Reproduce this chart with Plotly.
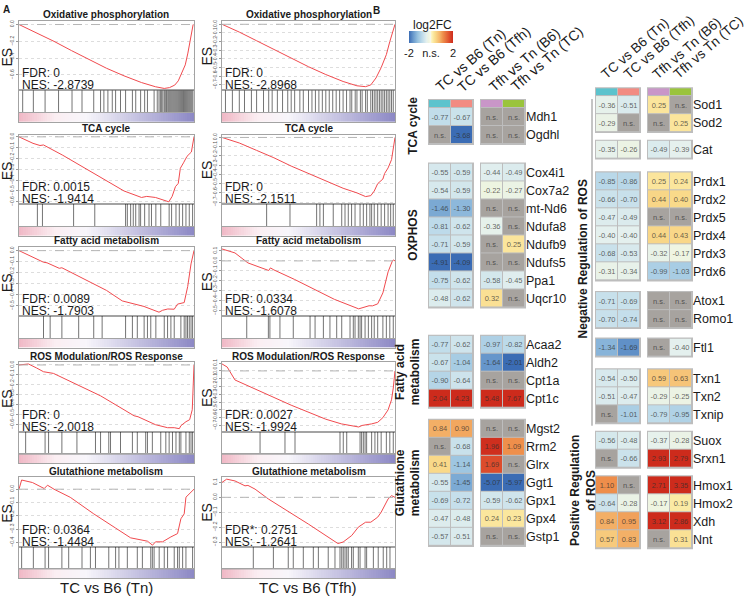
import numpy as np
import plotly.graph_objects as go

# ---------------- Panel A : GSEA running enrichment scores ----------------
gsea_titles = ["Oxidative phosphorylation", "TCA cycle", "Fatty acid metabolism",
               "ROS Modulation/ROS Response", "Glutathione metabolism"]
fdr_tn = ["0", "0.0015", "0.0089", "0", "0.0364"]
nes_tn = ["-2.8739", "-1.9414", "-1.7903", "-2.0018", "-1.4484"]
fdr_tfh = ["0", "0", "0.0334", "0.0027", "0.2751"]
nes_tfh = ["-2.8968", "-2.1511", "-1.6078", "-1.9924", "-1.2641"]
fdr_tfh_label = ["FDR", "FDR", "FDR", "FDR", "FDR*"]

oxphos_tn_rank = [0, 0.1, 0.2, 0.3, 0.4, 0.5, 0.6, 0.7, 0.78, 0.83, 0.86, 0.89, 0.91, 0.925, 0.95, 0.965, 0.98, 0.995]
oxphos_tn_es = [0, -0.1, -0.2, -0.31, -0.42, -0.52, -0.61, -0.69, -0.74, -0.76, -0.75, -0.72, -0.67, -0.6, -0.48, -0.34, -0.16, 0.0]
oxphos_tn_hits = [0.021, 0.082, 0.149, 0.226, 0.303, 0.36, 0.427, 0.466, 0.485, 0.508, 0.533, 0.552, 0.58, 0.609,
                  0.648, 0.667, 0.695, 0.718, 0.734, 0.772, 0.79, 0.8, 0.808, 0.815, 0.822, 0.83, 0.836, 0.843,
                  0.85, 0.856, 0.862, 0.868, 0.874, 0.88, 0.886, 0.892, 0.898, 0.904, 0.91, 0.916, 0.922, 0.928,
                  0.934, 0.94, 0.946, 0.952, 0.958, 0.964, 0.97, 0.976, 0.982, 0.988, 0.994]

oxphos_tfh_rank = [0, 0.1, 0.2, 0.3, 0.4, 0.5, 0.6, 0.7, 0.78, 0.83, 0.86, 0.89, 0.92, 0.95, 0.97, 0.99, 1.0]
oxphos_tfh_es = [0, -0.09, -0.19, -0.29, -0.39, -0.49, -0.58, -0.66, -0.71, -0.72, -0.7, -0.62, -0.5, -0.35, -0.2, -0.05, 0.0]
oxphos_tfh_hits = [0.02, 0.06, 0.1, 0.13, 0.17, 0.2, 0.24, 0.27, 0.29, 0.32, 0.35, 0.38, 0.4, 0.42, 0.45, 0.47,
                   0.5, 0.52, 0.54, 0.56, 0.58, 0.6, 0.62, 0.64, 0.66, 0.68, 0.7, 0.72, 0.74, 0.75, 0.77, 0.78,
                   0.8, 0.81, 0.83, 0.84, 0.86, 0.87, 0.88, 0.89, 0.9, 0.91, 0.92, 0.93, 0.94, 0.95, 0.96, 0.97,
                   0.98, 0.99]

tca_tn_rank = [0, 0.08, 0.12, 0.14, 0.25, 0.4, 0.6, 0.7, 0.73, 0.78, 0.856, 0.875, 0.894, 0.91, 0.922, 0.94, 0.96, 0.985, 1.0]
tca_tn_es = [0, -0.06, -0.08, -0.075, -0.17, -0.31, -0.5, -0.56, -0.55, -0.56, -0.6, -0.55, -0.46, -0.43, -0.29, -0.24, -0.18, -0.14, 0.0]
tca_tn_hits = [0.105, 0.134, 0.312, 0.433, 0.609, 0.619, 0.638, 0.653, 0.667, 0.686, 0.695, 0.718, 0.743,
               0.757, 0.782, 0.81, 0.858, 0.872, 0.897, 0.916, 0.935, 0.954, 0.973, 0.992]

tca_tfh_rank = [0, 0.1, 0.2, 0.3, 0.4, 0.5, 0.6, 0.7, 0.78, 0.83, 0.86, 0.88, 0.9, 0.93, 0.94, 0.96, 0.98, 0.99, 1.0]
tca_tfh_es = [0, -0.06, -0.14, -0.22, -0.31, -0.39, -0.47, -0.55, -0.6, -0.64, -0.63, -0.58, -0.5, -0.45, -0.39, -0.33, -0.24, -0.12, 0.0]
tca_tfh_hits = [0.258, 0.393, 0.547, 0.566, 0.586, 0.643, 0.692, 0.711, 0.73, 0.749, 0.769, 0.798, 0.817,
                0.836, 0.855, 0.865, 0.88, 0.9, 0.92, 0.94, 0.96, 0.975, 0.99]

fa_tn_rank = [0, 0.14, 0.16, 0.2, 0.23, 0.245, 0.3, 0.39, 0.5, 0.59, 0.65, 0.714, 0.8, 0.82, 0.85, 0.887, 0.906, 0.944, 0.964, 0.983, 1.0]
fa_tn_es = [0, -0.105, -0.11, -0.14, -0.16, -0.155, -0.2, -0.267, -0.36, -0.455, -0.48, -0.505, -0.557, -0.54, -0.528, -0.53, -0.484, -0.47, -0.325, -0.12, 0.0]
fa_tn_hits = [0.14, 0.178, 0.245, 0.341, 0.427, 0.475, 0.609, 0.648, 0.676, 0.715, 0.734, 0.753, 0.782, 0.83,
              0.849, 0.868, 0.887, 0.925, 0.944, 0.954, 0.963, 0.973, 0.983, 0.992]

fa_tfh_rank = [0, 0.075, 0.15, 0.27, 0.28, 0.3, 0.42, 0.65, 0.79, 0.85, 0.87, 0.9, 0.93, 0.96, 0.985, 0.99, 1.0]
fa_tfh_es = [0.12, 0.08, -0.02, -0.096, -0.07, -0.09, -0.186, -0.385, -0.48, -0.449, -0.45, -0.43, -0.32, -0.11, 0.0, 0.01, 0.0]
fa_tfh_hits = [0.143, 0.268, 0.277, 0.335, 0.412, 0.509, 0.538, 0.586, 0.624, 0.663, 0.692, 0.74, 0.759, 0.769,
               0.788, 0.798, 0.807, 0.827, 0.846, 0.865, 0.88, 0.9, 0.93, 0.95, 0.97, 0.99]

ros_tn_rank = [0, 0.054, 0.1, 0.14, 0.197, 0.3, 0.466, 0.6, 0.657, 0.68, 0.78, 0.849, 0.887, 0.916, 0.925, 0.954, 0.975, 0.99, 0.995, 1.0]
ros_tn_es = [0, 0.01, -0.03, -0.068, -0.085, -0.17, -0.31, -0.45, -0.51, -0.52, -0.6, -0.63, -0.63, -0.64, -0.61, -0.57, -0.55, -0.45, -0.25, 0.0]
ros_tn_hits = [0.038, 0.149, 0.169, 0.245, 0.331, 0.437, 0.466, 0.513, 0.523, 0.58, 0.648, 0.676, 0.724, 0.734,
               0.762, 0.81, 0.839, 0.858, 0.877, 0.897, 0.916, 0.925, 0.954, 0.973, 0.983, 0.992]

ros_tfh_rank = [0, 0.03, 0.075, 0.2, 0.4, 0.6, 0.69, 0.79, 0.81, 0.865, 0.9, 0.93, 0.96, 0.98, 0.99, 1.0]
ros_tfh_es = [0.09, 0.05, -0.116, -0.24, -0.44, -0.62, -0.68, -0.72, -0.7, -0.68, -0.66, -0.6, -0.5, -0.37, -0.22, 0.0]
ros_tfh_hits = [0.22, 0.364, 0.422, 0.682, 0.701, 0.721, 0.798, 0.807, 0.817, 0.827, 0.836, 0.865, 0.884,
                0.9, 0.92, 0.95, 0.97, 0.99]

gsh_tn_rank = [0, 0.015, 0.077, 0.144, 0.163, 0.2, 0.293, 0.427, 0.55, 0.638, 0.734, 0.763, 0.78, 0.82, 0.868, 0.906, 0.925, 0.944, 0.954, 0.992, 1.0]
gsh_tn_es = [0, 0.069, 0.05, 0.005, 0.03, 0.0, -0.061, -0.185, -0.29, -0.365, -0.39, -0.42, -0.395, -0.395, -0.358, -0.333, -0.222, -0.185, -0.06, -0.012, 0.0]
gsh_tn_hits = [0.015, 0.082, 0.149, 0.169, 0.245, 0.284, 0.36, 0.408, 0.437, 0.513, 0.552, 0.571, 0.619, 0.676,
               0.705, 0.753, 0.762, 0.772, 0.801, 0.83, 0.849, 0.887, 0.906, 0.916, 0.935, 0.954, 0.992]

gsh_tfh_rank = [0, 0.027, 0.075, 0.133, 0.15, 0.191, 0.268, 0.5, 0.67, 0.7, 0.75, 0.788, 0.83, 0.86, 0.9, 0.92, 0.96, 0.98, 1.0]
gsh_tfh_es = [0.1, 0.122, 0.11, 0.077, 0.08, 0.055, -0.011, -0.18, -0.31, -0.3, -0.256, -0.2, -0.167, -0.167, -0.133, -0.1, -0.011, 0.011, 0.0]
gsh_tfh_hits = [0.181, 0.297, 0.383, 0.412, 0.47, 0.528, 0.557, 0.614, 0.653, 0.682, 0.692, 0.701, 0.711, 0.721,
                0.73, 0.749, 0.759, 0.788, 0.798, 0.827, 0.836, 0.875, 0.903, 0.932, 0.952, 0.971]

# ---------------- Panel B : log2FC heatmaps ----------------
col_names = ["TC vs B6 (Tn)", "TC vs B6 (Tfh)", "Tfh vs Tn (B6)", "Tfh vs Tn (TC)"]

left_groups = ["TCA cycle", "OXPHOS", "Fatty acid<br>metabolism", "Glutathione<br>metabolism"]
left_group_sizes = [2, 8, 4, 7]
left_genes = ["Mdh1", "Ogdhl",
              "Cox4i1", "Cox7a2", "mt-Nd6", "Ndufa8", "Ndufb9", "Ndufs5", "Ppa1", "Uqcr10",
              "Acaa2", "Aldh2", "Cpt1a", "Cpt1c",
              "Mgst2", "Rrm2", "Glrx", "Ggt1", "Gpx1", "Gpx4", "Gstp1"]
tc_tn_left = [-0.77, None, -0.55, -0.54, -1.46, -0.81, -0.71, -4.91, -0.75, -0.48,
              -0.77, -0.67, -0.90, 2.04, 0.84, None, 0.41, -0.55, -0.69, -0.47, -0.57]
tc_tfh_left = [-0.67, -3.68, -0.59, -0.59, -1.30, -0.62, -0.59, -4.09, -0.62, -0.62,
               -0.62, -1.04, -0.64, 4.23, 0.90, -0.68, -1.14, -1.45, -0.72, -0.48, -0.51]
tfh_b6_left = [None, None, -0.44, -0.22, None, -0.36, None, None, -0.58, 0.32,
               -0.97, -1.64, None, 5.48, None, 1.96, 1.69, -5.07, -0.59, 0.24, None]
tfh_tc_left = [None, None, -0.49, -0.27, None, None, 0.25, None, -0.45, None,
               -0.82, -2.01, None, 7.67, None, 1.09, None, -5.97, -0.62, 0.23, None]

right_group_sizes = [2, 1, 6, 2, 1, 3, 2, 4]
right_genes = ["Sod1", "Sod2", "Cat", "Prdx1", "Prdx2", "Prdx5", "Prdx4", "Prdx3", "Prdx6",
               "Atox1", "Romo1", "Ftl1", "Txn1", "Txn2", "Txnip", "Suox", "Srxn1",
               "Hmox1", "Hmox2", "Xdh", "Nnt"]
tc_tn_right = [-0.36, -0.29, -0.35, -0.85, -0.66, -0.47, -0.40, -0.68, -0.31, -0.71, -0.70,
               -1.34, -0.54, -0.51, None, -0.56, None, 1.10, -0.64, 0.84, 0.57]
tc_tfh_right = [-0.51, None, -0.26, -0.86, -0.70, -0.49, -0.40, -0.53, -0.34, -0.69, -0.74,
                -1.69, -0.50, -0.47, -1.01, -0.48, -0.66, None, -0.28, 0.95, 0.83]
tfh_b6_right = [0.25, None, -0.49, 0.25, 0.44, None, 0.44, -0.32, -0.99, None, None,
                None, 0.59, -0.29, -0.79, -0.37, 2.93, 2.71, -0.17, 3.12, None]
tfh_tc_right = [None, 0.25, -0.39, 0.24, 0.40, None, 0.43, -0.17, -1.03, None, None,
                -0.40, 0.63, -0.25, -0.95, -0.28, 2.79, 3.35, 0.19, 2.86, 0.31]

# ---------------- figure helpers ----------------
W, H = 748, 598
FONT = "Liberation Sans, Arial, Helvetica"
fig = go.Figure()
n_axes = [0]


def add_axes(x0, x1, y0, y1, xopts, yopts):
    # domains given in pixels from the top-left corner
    n_axes[0] += 1
    s = "" if n_axes[0] == 1 else str(n_axes[0])
    fig.update_layout({f"xaxis{s}": dict(domain=[x0 / W, x1 / W], anchor=f"y{s}", **xopts),
                       f"yaxis{s}": dict(domain=[1 - y1 / H, 1 - y0 / H], anchor=f"x{s}", **yopts)})
    return f"x{s}", f"y{s}"


def note(x, y, text, size, xanchor="center", yanchor="middle", **kw):
    fig.add_annotation(x=x / W, y=1 - y / H, xref="paper", yref="paper", text=text, showarrow=False,
                       xanchor=xanchor, yanchor=yanchor, borderpad=0,
                       font=dict(size=size, color=kw.pop("color", "#1a1a1a"), family=FONT), **kw)


frame = dict(showline=True, mirror=True, linecolor="#a3a3a3", linewidth=1, showgrid=False,
             zeroline=False, ticks="", showticklabels=False, fixedrange=True)
hidden = dict(visible=False, fixedrange=True)

# ---------------- Panel A ----------------
curves_tn = [(oxphos_tn_rank, oxphos_tn_es, oxphos_tn_hits), (tca_tn_rank, tca_tn_es, tca_tn_hits),
             (fa_tn_rank, fa_tn_es, fa_tn_hits), (ros_tn_rank, ros_tn_es, ros_tn_hits),
             (gsh_tn_rank, gsh_tn_es, gsh_tn_hits)]
curves_tfh = [(oxphos_tfh_rank, oxphos_tfh_es, oxphos_tfh_hits), (tca_tfh_rank, tca_tfh_es, tca_tfh_hits),
              (fa_tfh_rank, fa_tfh_es, fa_tfh_hits), (ros_tfh_rank, ros_tfh_es, ros_tfh_hits),
              (gsh_tfh_rank, gsh_tfh_es, gsh_tfh_hits)]
yr_tn = [([-0.78, 0.044], 0.2), ([-0.62, 0.02], 0.1), ([-0.59, 0.037], 0.1), ([-0.67, 0.026], 0.1), ([-0.43, 0.09], 0.1)]
yr_tfh = [([-0.76, 0.04], 0.1), ([-0.72, 0.03], 0.1), ([-0.55, 0.144], 0.1), ([-0.78, 0.11], 0.1), ([-0.33, 0.135], 0.1)]

col_x = [(19, 194), (222, 395)]
row_tops = [17, 132, 245, 362, 478]
grad_steps = np.linspace(0, 1, 80)
grad_scale = [[0, "#f0b9c6"], [0.2, "#fbeef2"], [0.38, "#f8f6fb"], [1, "#8d89c5"]]

for c, (curves, yrs, fdrs, nes, fdr_lab) in enumerate([
        (curves_tn, yr_tn, fdr_tn, nes_tn, ["FDR"] * 5),
        (curves_tfh, yr_tfh, fdr_tfh, nes_tfh, fdr_tfh_label)]):
    L, R = col_x[c]
    for r in range(5):
        T = row_tops[r]
        rank, es, hits = curves[r]
        yrange, dt = yrs[r]
        xa, ya = add_axes(L, R, T, T + 70, dict(frame, range=[0, 1]),
                          dict(showline=True, mirror=True, linecolor="#a3a3a3", range=yrange, dtick=dt,
                               tickformat=".1f", tickangle=-90, tickfont=dict(size=5, color="#555"),
                               ticks="outside", ticklen=2, tickcolor="#999", showgrid=True,
                               gridcolor="#dddddd", griddash="dot", zeroline=False, fixedrange=True))
        fig.add_trace(go.Scatter(x=rank, y=es, xaxis=xa, yaxis=ya, mode="lines",
                                 line=dict(color="#f04a4e", width=1), hoverinfo="skip", showlegend=False))
        fig.add_shape(type="line", xref=f"{xa} domain", yref=ya, x0=0, x1=1, y0=0, y1=0,
                      line=dict(color="#b5b5b5", width=1, dash="dash"))
        # barcode of gene-set members
        bx, by = [], []
        for h in hits:
            bx += [h, h, None]
            by += [0, 1, None]
        xb, yb = add_axes(L, R, T + 70, T + 93, dict(frame, range=[0, 1]), dict(frame, range=[0, 1]))
        fig.add_trace(go.Scatter(x=bx, y=by, xaxis=xb, yaxis=yb, mode="lines",
                                 line=dict(color="rgba(0,0,0,0.55)", width=1), hoverinfo="skip", showlegend=False))
        # ranked-list gradient
        xg, yg = add_axes(L, R, T + 93, T + 102, dict(frame), dict(frame))
        fig.add_trace(go.Heatmap(z=[grad_steps], xaxis=xg, yaxis=yg, colorscale=grad_scale,
                                 showscale=False, hoverinfo="skip"))
        note((L + R) / 2, T - 6, f"<b>{gsea_titles[r]}</b>", 10)
        note(L + 2, T + 53, f"{fdr_lab[r]}: {fdrs[r]}", 12, xanchor="left")
        note(L + 2, T + 65, f"NES: {nes[r]}", 12, xanchor="left")
        note(L - 12 if c == 0 else L - 15, T + 36, "ES", 14, textangle=-90)

note(106, 589, "TC vs B6 (Tn)", 15)
note(308, 589, "TC vs B6 (Tfh)", 15)

# ---------------- Panel B ----------------
ns_grey = "#a7a39f"
fc_scale = [[0.0, "#3b6cb4"], [0.1, "#6b9bcd"], [0.2, "#98c2df"], [0.3, "#bedbea"], [0.4, "#e4f0ee"],
            [0.45, "#eef4e0"], [0.497, "#f7f8ee"], [0.497, ns_grey], [0.503, ns_grey], [0.503, "#fdf6c8"],
            [0.55, "#fbe9a2"], [0.6, "#f9da8a"], [0.7, "#f4b46a"], [0.77, "#ef904c"], [0.9, "#e05530"],
            [1.0, "#cd2b1c"]]
ROW_H = 18.2
header_cols = ["#5cc3cd", "#f28b82", "#c996c8", "#9ac43c"]
legend_done = [False]


def block(x0, x1, y0, genes, cols, label_right):
    y1 = y0 + ROW_H * len(genes)
    z = [[0 if v is None else v for v in row] for row in zip(*cols)]
    txt = [["n.s." if v is None else f"{v:.2f}" for v in row] for row in zip(*cols)]
    xa, ya = add_axes(x0, x1, y0, y1, hidden,
                      dict(autorange="reversed", showline=False, showgrid=False, zeroline=False,
                           side="right", ticks="", showticklabels=label_right, visible=label_right,
                           tickfont=dict(size=12.5, color="#1a1a1a", family=FONT), fixedrange=True))
    fig.add_shape(type="rect", xref="paper", yref="paper", layer="below",
                  x0=(x0 - 1) / W, x1=(x1 + 1) / W, y0=1 - (y1 + 1) / H, y1=1 - (y0 - 1) / H,
                  fillcolor="#bdbdbd", line=dict(width=0))
    show = not legend_done[0]
    legend_done[0] = True
    fig.add_trace(go.Heatmap(z=z, x=["a", "b"], y=genes, text=txt, texttemplate="%{text}",
                             textfont=dict(size=7.5, color="rgba(45,45,45,0.72)", family=FONT),
                             xaxis=xa, yaxis=ya, colorscale=fc_scale, zmin=-2, zmax=2, xgap=1, ygap=1,
                             hoverinfo="skip", showscale=show,
                             colorbar=dict(orientation="h", x=431 / W, xanchor="center", y=1 - 27 / H,
                                           yanchor="top", len=44, lenmode="pixels", thickness=12,
                                           outlinewidth=0, tickvals=[-2, 0, 2], ticktext=["-2", "n.s.", "2"],
                                           ticks="", tickfont=dict(size=11, family=FONT, color="#1a1a1a"),
                                           xpad=0, ypad=0)))


def header(x0, x1, y0, y1, vals):
    xa, ya = add_axes(x0, x1, y0, y1, hidden, hidden)
    fig.add_shape(type="rect", xref="paper", yref="paper", layer="below",
                  x0=(x0 - 1) / W, x1=(x1 + 1) / W, y0=1 - (y1 + 1) / H, y1=1 - (y0 - 1) / H,
                  fillcolor="#bdbdbd", line=dict(width=0))
    fig.add_trace(go.Heatmap(z=[vals], xaxis=xa, yaxis=ya, zmin=0, zmax=3, xgap=1, ygap=0,
                             colorscale=[[0, header_cols[0]], [1 / 3, header_cols[1]],
                                         [2 / 3, header_cols[2]], [1, header_cols[3]]],
                             showscale=False, hoverinfo="skip"))


def panel(genes, sizes, tops, c1, c2, c3, c4, xs_tc, xs_tfh):
    i = 0
    for n, top in zip(sizes, tops):
        g = genes[i:i + n]
        block(xs_tc[0], xs_tc[1], top, g, [c1[i:i + n], c2[i:i + n]], False)
        block(xs_tfh[0], xs_tfh[1], top, g, [c3[i:i + n], c4[i:i + n]], True)
        i += n


left_tc, left_tfh = (429, 473), (481, 525)
right_tc, right_tfh = (596, 640), (648, 692)
panel(left_genes, left_group_sizes, [105, 161, 335, 420],
      tc_tn_left, tc_tfh_left, tfh_b6_left, tfh_tc_left, left_tc, left_tfh)
panel(right_genes, right_group_sizes, [93, 138, 170, 291, 338, 369, 432, 477],
      tc_tn_right, tc_tfh_right, tfh_b6_right, tfh_tc_right, right_tc, right_tfh)
header(*left_tc, 97, 104.5, [0, 1])
header(*left_tfh, 97, 104.5, [2, 3])
header(*right_tc, 85, 92.5, [0, 1])
header(*right_tfh, 85, 92.5, [2, 3])
note(432, 21, "log2FC", 12)

# rotated column labels
for xs, ybase, fs in [([431, 453, 484, 506], 93, 14), ([597, 619, 648, 669], 80, 13.5)]:
    for x, name in zip(xs, col_names):
        note(x, ybase, name, fs, textangle=-41, xanchor="left", yanchor="bottom")

# group labels
for (x, y), name in zip([(413, 123), (413, 234), (408, 371), (408, 483)], left_groups):
    note(x, y, f"<b>{name}</b>", 12, textangle=-90)
note(583, 258, "<b>Negative Regulation of ROS</b>", 12, textangle=-90)
note(583, 492, "<b>Positive Regulation<br>of ROS</b>", 12, textangle=-90)
fig.add_shape(type="line", xref="paper", yref="paper", x0=592 / W, x1=592 / W, y0=1 - 96 / H, y1=1 - 426 / H,
              line=dict(color="#8a8a8a", width=1))

note(6, 6, "<b>A</b>", 10)
note(376, 7, "<b>B</b>", 10)

fig.update_layout(width=W, height=H, autosize=False, margin=dict(l=0, r=0, t=0, b=0),
                  paper_bgcolor="white", plot_bgcolor="white", showlegend=False,
                  font=dict(family=FONT, color="#1a1a1a"), hovermode=False)
# the page's default 8px body margin would push the fixed-size figure off the window
fig.write_html("out.html", config={"displayModeBar": False},
               post_script="document.body.style.margin = '0';")
